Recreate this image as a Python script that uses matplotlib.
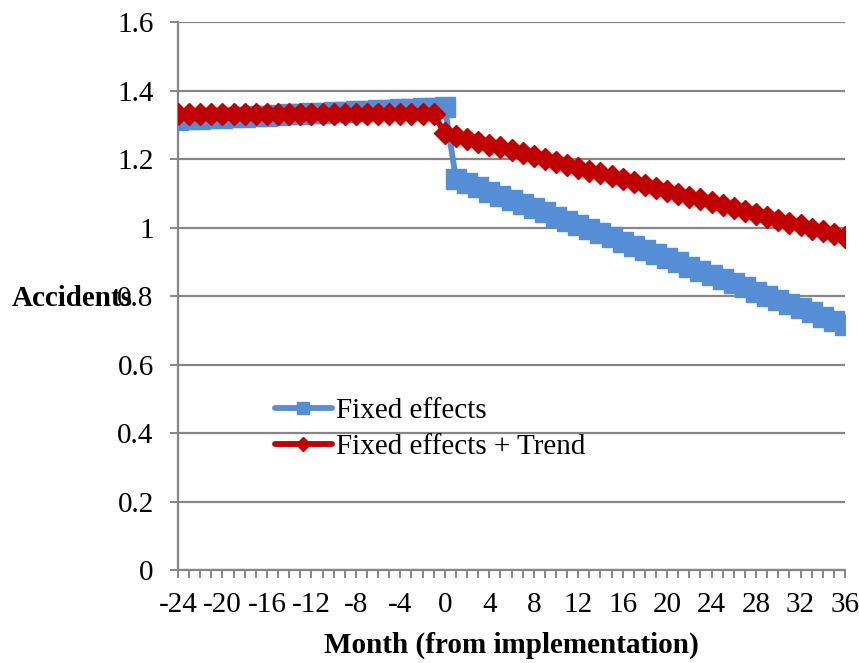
import matplotlib
matplotlib.use("Agg")
import matplotlib.pyplot as plt
from matplotlib.ticker import MultipleLocator

plt.rcParams['font.family'] = ['Liberation Serif', 'DejaVu Serif']

# Months relative to implementation
months_pre_fe = list(range(-24, 1))      # -24 .. 0
months_post_fe = list(range(1, 37))      # 1 .. 36
months_pre_tr = list(range(-24, 0))      # -24 .. -1
months_post_tr = list(range(0, 37))      # 0 .. 36

fixed_effects_pre = [1.315, 1.317, 1.318, 1.320, 1.321, 1.323, 1.324, 1.326, 1.327,
                     1.329, 1.330, 1.332, 1.333, 1.335, 1.337, 1.338, 1.340, 1.341,
                     1.343, 1.344, 1.346, 1.347, 1.349, 1.350, 1.352]
fixed_effects_post = [1.142, 1.130, 1.118, 1.105, 1.093, 1.081, 1.069, 1.057, 1.044,
                      1.032, 1.020, 1.008, 0.996, 0.983, 0.971, 0.959, 0.947, 0.935,
                      0.922, 0.910, 0.898, 0.886, 0.874, 0.861, 0.849, 0.837, 0.825,
                      0.813, 0.800, 0.788, 0.776, 0.764, 0.752, 0.739, 0.727, 0.715]
trend_pre = [1.331] * 24
trend_post = [1.276, 1.268, 1.259, 1.251, 1.242, 1.234, 1.225, 1.217, 1.208, 1.200,
              1.192, 1.183, 1.175, 1.166, 1.158, 1.149, 1.141, 1.132, 1.124, 1.116,
              1.107, 1.099, 1.090, 1.082, 1.073, 1.065, 1.056, 1.048, 1.040, 1.031,
              1.023, 1.014, 1.006, 0.997, 0.989, 0.980, 0.972]

series_labels = ["Fixed effects", "Fixed effects + Trend"]
x_tick_labels = list(range(-24, 37, 4))
y_ticks = [0, 0.2, 0.4, 0.6, 0.8, 1, 1.2, 1.4, 1.6]

BLUE = "#558ED5"
RED = "#C00000"
AXIS = "#868686"
FS = 21

fig = plt.figure(figsize=(8.59, 6.63), dpi=100)
ax = fig.add_axes([178 / 859, 1 - 570 / 663, (845 - 178) / 859, (570 - 22) / 663])

fe_x = months_pre_fe + months_post_fe
fe_y = fixed_effects_pre + fixed_effects_post
tr_x = months_pre_tr + months_post_tr
tr_y = trend_pre + trend_post

ax.plot(fe_x, fe_y, color=BLUE, lw=4.2, marker='s', ms=14.5, mec=BLUE, mfc=BLUE,
        solid_joinstyle='round', solid_capstyle='round', label=series_labels[0], zorder=3)
ax.plot(tr_x, tr_y, color=RED, lw=4.2, marker='D', ms=11.2, mec=RED, mfc=RED,
        solid_joinstyle='round', solid_capstyle='round', label=series_labels[1], zorder=4)

ax.set_xlim(-24, 36)
ax.set_ylim(0, 1.6)
ax.set_xticks(x_tick_labels)
ax.set_xticklabels([str(v) for v in x_tick_labels])
ax.xaxis.set_minor_locator(MultipleLocator(1))
ax.set_yticks(y_ticks)
ax.set_yticklabels(["0", "0.2", "0.4", "0.6", "0.8", "1", "1.2", "1.4", "1.6"])

ax.grid(axis='y', color=AXIS, lw=1.6, zorder=0)
ax.set_axisbelow(True)
for s in ['top', 'right']:
    ax.spines[s].set_visible(False)
for s in ['left', 'bottom']:
    ax.spines[s].set_color(AXIS)
    ax.spines[s].set_linewidth(1.6)

ax.tick_params(axis='both', which='both', direction='out', color=AXIS, width=1.4,
               labelsize=FS, labelcolor='black')
ax.tick_params(axis='y', which='major', length=6, pad=11.5)
ax.tick_params(axis='x', which='major', length=6, pad=10)
ax.tick_params(axis='x', which='minor', length=6)

leg = ax.legend(loc='upper left', bbox_to_anchor=(0.1454, 0.315), frameon=False,
                fontsize=FS, handlelength=1.95, handletextpad=0.15,
                labelspacing=0.33, markerscale=0.6, borderpad=0, borderaxespad=0)

fig.text(12 / 859, 1 - 298 / 663, "Accidents", fontsize=FS, fontweight='bold',
         ha='left', va='center')
fig.text(511 / 859, 1 - 645 / 663, "Month (from implementation)", fontsize=FS,
         fontweight='bold', ha='center', va='center')

fig.savefig("out.png", dpi=100)
